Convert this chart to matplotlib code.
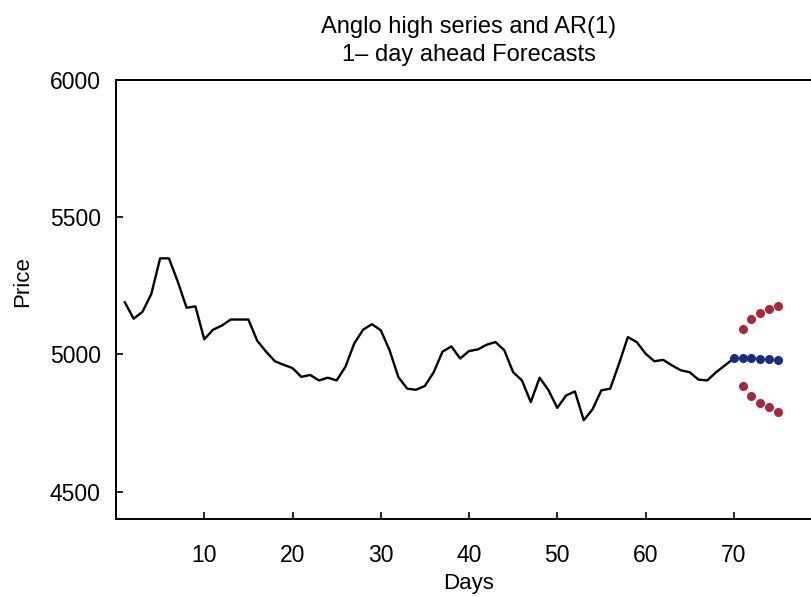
import matplotlib
matplotlib.use("Agg")
import matplotlib.pyplot as plt

plt.rcParams['font.family'] = ['Liberation Sans', 'DejaVu Sans']

days = list(range(1, 71))
price = [5190, 5130, 5155, 5220, 5350, 5350, 5265, 5170, 5175, 5055,
         5090, 5105, 5127, 5127, 5127, 5050, 5010, 4975, 4962, 4950,
         4918, 4925, 4905, 4915, 4905, 4955, 5040, 5090, 5110, 5088,
         5015, 4917, 4875, 4871, 4885, 4935, 5010, 5029, 4985, 5012,
         5018, 5035, 5045, 5015, 4935, 4905, 4826, 4915, 4870, 4805,
         4850, 4865, 4760, 4800, 4869, 4875, 4966, 5063, 5045, 5003,
         4975, 4980, 4960, 4942, 4935, 4908, 4905, 4935, 4960, 4985]

fc_days = [70, 71, 72, 73, 74, 75]
fc_mean = [4985, 4985, 4985, 4984, 4982, 4980]
band_days = [71, 72, 73, 74, 75]
fc_upper = [5094, 5130, 5152, 5165, 5177]
fc_lower = [4883, 4847, 4822, 4808, 4789]

title = "Anglo high series and AR(1)\n1\u2013 day ahead Forecasts"
xticks = [10, 20, 30, 40, 50, 60, 70]
yticks = [4500, 5000, 5500, 6000]

fig = plt.figure(figsize=(8.12, 5.97), dpi=100)
ax = fig.add_axes([116/812, 78/597, 706/812, 439/597])

ax.plot(days, price, color='black', lw=1.7, zorder=2)
ax.plot(fc_days, fc_mean, 'o', color='#1c2c80', ms=5.5, zorder=3)
ax.plot(band_days, fc_upper, 'o', color='#ad2538', ms=5.5, zorder=3)
ax.plot(band_days, fc_lower, 'o', color='#ad2538', ms=5.5, zorder=3)

ax.set_xlim(0, 80)
ax.set_ylim(4400, 6000)
ax.set_xticks(xticks)
ax.set_yticks(yticks)
ax.tick_params(direction='in', length=5, width=1.2, labelsize=16.5)
ax.tick_params(axis='y', pad=11)
ax.tick_params(axis='x', pad=18)
for s in ax.spines.values():
    s.set_linewidth(1.4)

ax.set_xlabel("Days", fontsize=16, labelpad=4)
ax.set_ylabel("Price", fontsize=16)
ax.yaxis.set_label_coords(-0.118, 0.54)
ax.set_title(title, fontsize=17, linespacing=1.3, pad=14)

fig.savefig("out.png", dpi=100)
